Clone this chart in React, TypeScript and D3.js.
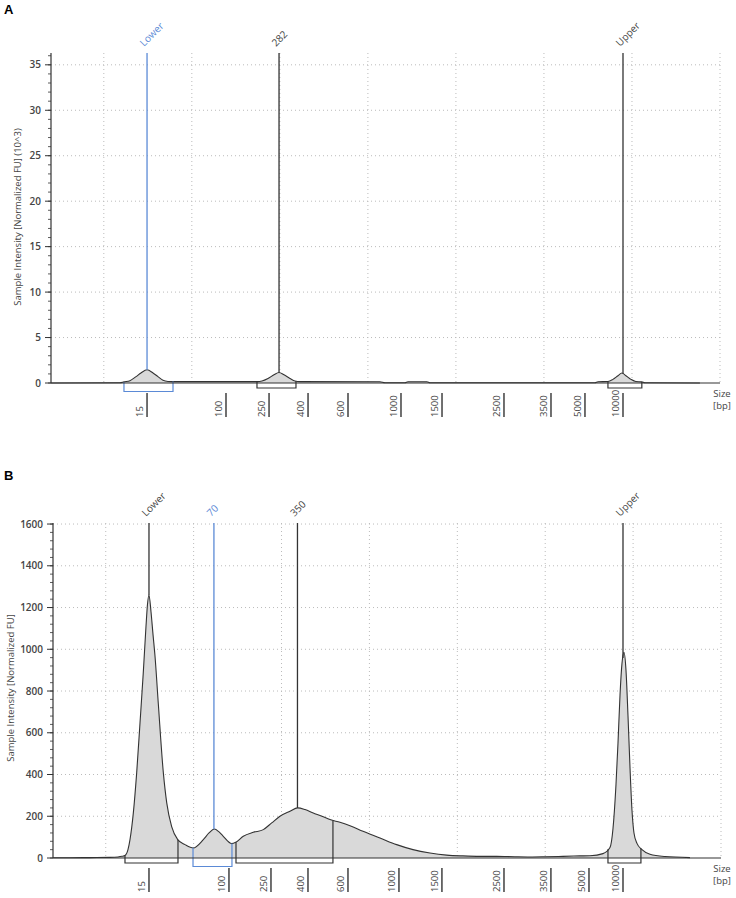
import React from 'react';
import * as d3 from 'd3';

// ---------- Ladder (size standard) : size in bp vs migration time (s) ----------
const ladderSizes = [15, 100, 250, 400, 600, 1000, 1500, 2500, 3500, 5000, 10000];
const ladderTimesA = [34.91, 43.88, 48.77, 53.2, 57.74, 63.76, 68.42, 75.46, 80.8, 84.66, 88.98];
const ladderTimesB = [34.92, 44.02, 48.8, 53.01, 57.56, 63.36, 68.25, 75.31, 80.65, 84.98, 88.85];

// ---------- Panel A trace (time, intensity in 10^3 FU) ----------
const traceTimeA = [24.0, 31.84, 32.29, 32.97, 33.66, 34.22, 34.91, 35.59, 36.15, 36.72, 37.29, 38.09, 47.4, 47.97, 48.65, 49.33, 49.9, 50.47, 51.15, 51.72, 52.29, 61.37, 61.94, 64.22, 64.55, 66.71, 67.05, 85.8, 86.14, 87.27, 87.84, 88.41, 88.86, 89.31, 89.88, 90.44, 91.12, 91.46, 97.72];
const traceValueA = [0, 0.02, 0.12, 0.25, 0.7, 1.1, 1.45, 1.1, 0.7, 0.3, 0.17, 0.15, 0.15, 0.22, 0.5, 0.9, 1.15, 0.9, 0.5, 0.22, 0.15, 0.13, 0.02, 0.02, 0.13, 0.13, 0.02, 0.02, 0.14, 0.16, 0.4, 0.8, 1.1, 0.8, 0.4, 0.16, 0.12, 0.02, 0];

// ---------- Panel B trace (time, intensity FU) ----------
const traceTimeB = [24.0, 25.93, 28.21, 30.48, 31.39, 31.85, 32.19, 32.53, 32.76, 33.14, 33.52, 33.9, 34.27, 34.58, 34.75, 34.92, 35.15, 35.38, 35.6, 35.98, 36.55, 36.94, 37.5, 38.19, 39.02, 39.96, 41.1, 41.75, 42.35, 42.89, 43.37, 44.33, 44.79, 45.65, 46.79, 47.93, 48.88, 49.82, 50.96, 51.84, 52.67, 53.61, 54.6, 55.51, 56.65, 57.79, 59.27, 61.2, 63.1, 64.96, 66.89, 68.79, 70.64, 72.58, 74.48, 76.56, 78.27, 79.97, 82.02, 83.95, 85.09, 86.57, 87.37, 87.71, 88.05, 88.28, 88.51, 88.73, 88.96, 89.19, 89.42, 89.65, 89.87, 90.1, 90.44, 91.01, 91.92, 93.63, 96.47];
const traceValueB = [1, 1, 2, 3, 5, 8, 12, 40, 88, 216, 408, 648, 887, 1110, 1215, 1260, 1180, 1070, 970, 740, 410, 264, 150, 88, 64, 48, 88, 120, 139, 125, 104, 69, 75, 104, 123, 136, 168, 200, 224, 240, 232, 216, 200, 184, 171, 155, 128, 96, 64, 40, 24, 14, 10, 8, 8, 6, 5, 6, 8, 10, 11, 21, 50, 140, 350, 550, 780, 930, 985, 900, 680, 430, 230, 120, 70, 40, 18, 7, 2];

// ---------- Peak markers ----------
const markerLabelsA = ['Lower', '282', 'Upper'];
const markerSizesA = [15, 282, 10000];
const markerSelectedA = [true, false, false];
const markerLabelsB = ['Lower', '70', '350', 'Upper'];
const markerSizesB = [15, 70, 350, 10000];
const markerSelectedB = [false, true, false, false];

// ---------- Peak regions (time) ----------
const regionStartA = [32.29, 47.4, 87.27];
const regionEndA = [37.86, 51.83, 91.12];
const regionSelectedA = [true, false, false];
const regionStartB = [32.19, 39.93, 44.82, 87.14];
const regionEndB = [38.22, 44.36, 55.85, 90.89];
const regionSelectedB = [false, true, false, false];

// ---------- Axes ----------
const timeDomain = [24, 100];
const gridTimes = [30, 40, 50, 60, 70, 80, 90, 100];
const yMajorA = [0, 5, 10, 15, 20, 25, 30, 35];
const yMajorB = [0, 200, 400, 600, 800, 1000, 1200, 1400, 1600];

const BLUE = '#5b8ad6';
const DARK = '#333';
const FONT = '"Open Sans", "Noto Sans", sans-serif';

type PanelProps = {
  letter: string; letterY: number;
  left: number; right: number; top: number; base: number;
  yMax: number; yMajor: number[]; yMinorStep: number;
  yTitle: string; yTitleX: number; yTitleY: number;
  ladderTimes: number[];
  times: number[]; values: number[];
  mLabels: string[]; mSizes: number[]; mSel: boolean[];
  rStart: number[]; rEnd: number[]; rSel: boolean[];
};

function Panel(p: PanelProps) {
  const x = d3.scaleLinear().domain(timeDomain).range([p.left, p.right]);
  const y = d3.scaleLinear().domain([0, p.yMax]).range([p.base, p.top]);
  const sizeToTime = d3.scaleLinear().domain(ladderSizes.map(Math.log)).range(p.ladderTimes);
  const valueAt = d3.scaleLinear().domain(p.times).range(p.values).clamp(true);
  const pts = p.times.map((t, i) => [t, p.values[i]] as [number, number]);
  const area = d3.area<[number, number]>().x(d => x(d[0])).y0(y(0)).y1(d => y(d[1])).curve(d3.curveMonotoneX);
  const line = d3.line<[number, number]>().x(d => x(d[0])).y(d => y(d[1])).curve(d3.curveMonotoneX);
  const minor = d3.range(0, p.yMax, p.yMinorStep);
  return (
    <g>
      <text x={4} y={p.letterY} fontFamily="Arial, Liberation Sans, sans-serif" fontWeight="bold" fontSize={13} fill="#000">{p.letter}</text>
      {/* grid */}
      {gridTimes.map(t => (
        <line key={'gv' + t} x1={x(t)} x2={x(t)} y1={p.top} y2={p.base} stroke="#bbb" strokeDasharray="1,3" />
      ))}
      {p.yMajor.filter(v => v > 0).map(v => (
        <line key={'gh' + v} x1={p.left} x2={p.right} y1={y(v)} y2={y(v)} stroke="#bbb" strokeDasharray="1,3" />
      ))}
      {/* trace */}
      <path d={area(pts) || ''} fill="#d9d9d9" />
      <path d={line(pts) || ''} fill="none" stroke={DARK} strokeWidth={1.1} />
      {/* regions */}
      {p.rStart.map((s, i) => {
        const e = p.rEnd[i];
        const depth = p.rSel[i] ? 8.5 : 5;
        const d = `M${x(s)},${y(valueAt(s))}L${x(s)},${p.base + depth}L${x(e)},${p.base + depth}L${x(e)},${y(valueAt(e))}`;
        return <path key={'r' + i} d={d} fill="none" stroke={p.rSel[i] ? BLUE : DARK} strokeWidth={1.2} />;
      })}
      {/* markers */}
      {p.mSizes.map((s, i) => {
        const t = sizeToTime(Math.log(s));
        const xx = x(t);
        const col = p.mSel[i] ? BLUE : DARK;
        return (
          <g key={'m' + i}>
            <line x1={xx} x2={xx} y1={p.top} y2={y(valueAt(t))} stroke={col} strokeWidth={1.3} />
            <text transform={`translate(${xx - 3},${p.top - 6}) rotate(-45)`} fontFamily={FONT} fontSize={10} fill={p.mSel[i] ? BLUE : '#444'}>{p.mLabels[i]}</text>
          </g>
        );
      })}
      {/* axes */}
      <line x1={p.left} x2={p.right} y1={p.base} y2={p.base} stroke={DARK} strokeWidth={1.2} />
      <line x1={p.left} x2={p.left} y1={p.top} y2={p.base} stroke={DARK} strokeWidth={1.2} />
      {minor.map(v => (
        <line key={'mt' + v} x1={p.left - 3} x2={p.left} y1={y(v)} y2={y(v)} stroke={DARK} strokeWidth={0.8} />
      ))}
      {p.yMajor.map(v => (
        <g key={'yt' + v}>
          <line x1={p.left - 6} x2={p.left} y1={y(v)} y2={y(v)} stroke={DARK} strokeWidth={1} />
          <text x={p.left - 10} y={y(v)} dy="0.35em" textAnchor="end" fontFamily={FONT} fontWeight={600} fontSize={10} fill="#444">{v}</text>
        </g>
      ))}
      <text transform={`translate(${p.yTitleX},${p.yTitleY}) rotate(-90)`} textAnchor="middle" fontFamily={FONT} fontSize={9.5} fill="#444">{p.yTitle}</text>
      {/* x ladder ticks */}
      {ladderSizes.map(s => {
        const xx = x(sizeToTime(Math.log(s)));
        return (
          <g key={'xt' + s}>
            <line x1={xx} x2={xx} y1={p.base + 10} y2={p.base + 34} stroke={DARK} strokeWidth={1.4} />
            <text transform={`translate(${xx - 4},${p.base + 34}) rotate(-90)`} textAnchor="start" fontFamily={FONT} fontSize={9.5} fill="#444">{s}</text>
          </g>
        );
      })}
      <text x={722} y={p.base + 14} textAnchor="middle" fontFamily={FONT} fontSize={9.5} fill="#444">Size</text>
      <text x={722} y={p.base + 26} textAnchor="middle" fontFamily={FONT} fontSize={9.5} fill="#444">[bp]</text>
    </g>
  );
}

export default function App() {
  return (
    <svg width={736} height={898} style={{ position: 'absolute', left: 0, top: 0, background: '#fff' }}>
      <rect width={736} height={898} fill="#fff" />
      <Panel letter="A" letterY={14} left={51} right={720} top={53} base={383}
        yMax={36.3} yMajor={yMajorA} yMinorStep={1}
        yTitle="Sample Intensity [Normalized FU] (10^3)" yTitleX={21} yTitleY={217}
        ladderTimes={ladderTimesA} times={traceTimeA} values={traceValueA}
        mLabels={markerLabelsA} mSizes={markerSizesA} mSel={markerSelectedA}
        rStart={regionStartA} rEnd={regionEndA} rSel={regionSelectedA} />
      <Panel letter="B" letterY={480} left={53} right={721} top={523} base={858}
        yMax={1605} yMajor={yMajorB} yMinorStep={40}
        yTitle="Sample Intensity [Normalized FU]" yTitleX={14} yTitleY={688}
        ladderTimes={ladderTimesB} times={traceTimeB} values={traceValueB}
        mLabels={markerLabelsB} mSizes={markerSizesB} mSel={markerSelectedB}
        rStart={regionStartB} rEnd={regionEndB} rSel={regionSelectedB} />
    </svg>
  );
}
